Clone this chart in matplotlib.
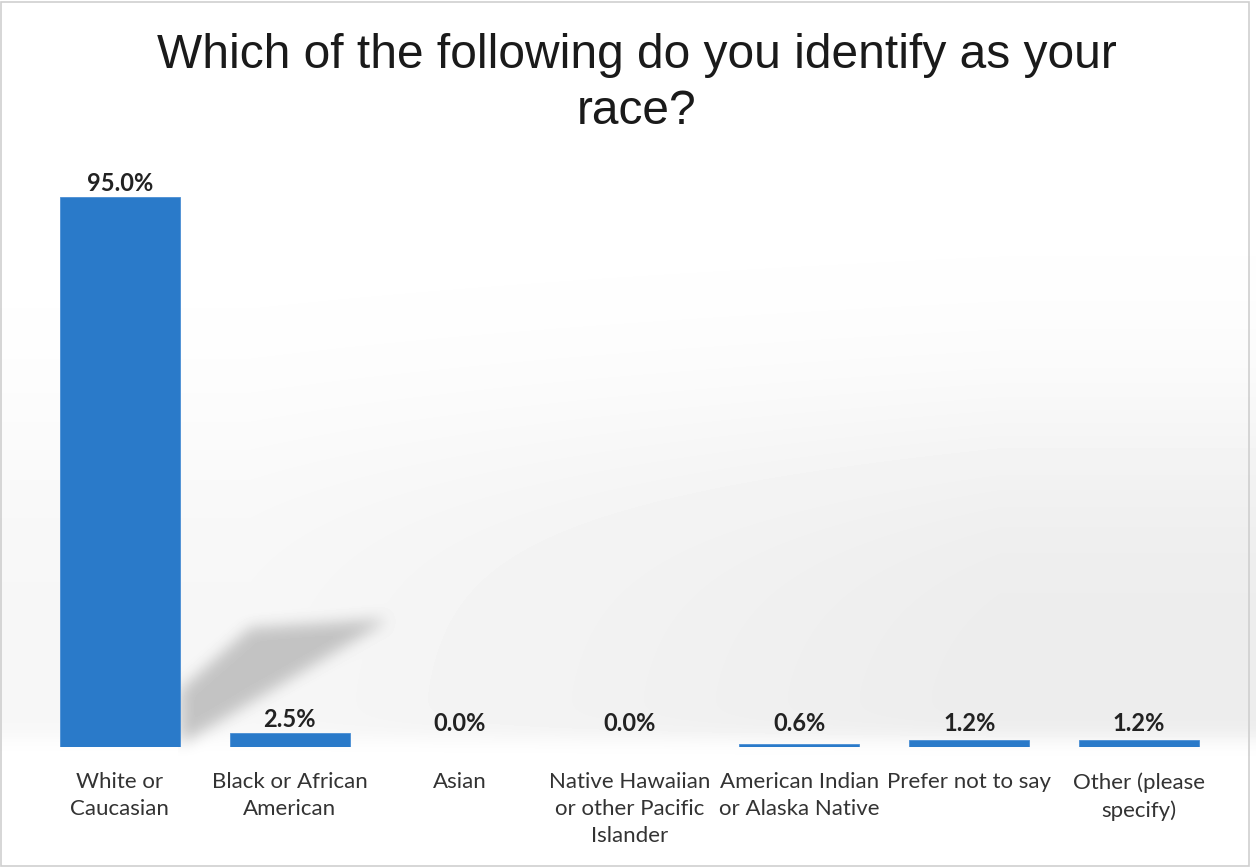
import numpy as np
import matplotlib
matplotlib.use("Agg")
import matplotlib.pyplot as plt
from matplotlib.patches import Rectangle

categories = ["White or\nCaucasian", "Black or African\nAmerican", "Asian",
              "Native Hawaiian\nor other Pacific\nIslander",
              "American Indian\nor Alaska Native", "Prefer not to say",
              "Other (please\nspecify)"]
values = [95.0, 2.5, 0.0, 0.0, 0.6, 1.2, 1.2]
value_labels = ["95.0%", "2.5%", "0.0%", "0.0%", "0.6%", "1.2%", "1.2%"]
title = "Which of the following do you identify as your\nrace?"

W, H = 1256, 867
fig = plt.figure(figsize=(W / 100, H / 100), dpi=100)

# ---- decorative background (soft gray haze + bar shadow) ----
yy, xx = np.mgrid[0:H, 0:W].astype(float)
gy = 1 / (1 + np.exp(-(yy - 430) / 60)) * (1 / (1 + np.exp((yy - 738) / 6)))
gx = 0.45 + 0.55 * np.clip((xx - 250) / 750, 0, 1)
gray = 0.075 * gy * gx
mask = np.zeros((H, W))
for x in range(180, 385):
    if x < 250:
        top = 690 - (x - 180) * (62 / 70)
    else:
        top = 628 - (x - 250) * (8 / 130)
    bot = 745 - (x - 180) * 0.6
    if bot > top:
        mask[int(top):int(bot), x] = 1
k = np.ones(17) / 17
for _ in range(2):
    mask = np.apply_along_axis(lambda r: np.convolve(r, k, mode="same"), 1, mask)
    mask = np.apply_along_axis(lambda c: np.convolve(c, k, mode="same"), 0, mask)
mask[:, :178] = 0
gray = gray + 0.2 * mask
img = 1 - gray
bg = fig.add_axes([0, 0, 1, 1], zorder=-1)
bg.imshow(img, extent=(0, 1, 0, 1), aspect="auto", cmap="gray", vmin=0, vmax=1,
          interpolation="bilinear")
bg.axis("off")

# ---- main axes ----
ax = fig.add_axes([35 / W, 1 - 747 / H, (1224 - 35) / W, 550 / H])
ax.set_facecolor("none")
x = np.arange(len(categories))
bar_color = "#2A7AC9"
ax.bar(x, values, width=0.706, color=bar_color, edgecolor="#4A8ED4", linewidth=0.6)
ax.set_xlim(-0.5, len(categories) - 0.5)
ax.set_ylim(0, 95)
for s in ax.spines.values():
    s.set_visible(False)
ax.set_yticks([])
ax.set_xticks(x)
ax.set_xticklabels(categories, fontsize=16, family="Lato", color="#333333",
                   linespacing=1.45)
ax.tick_params(axis="x", length=0, pad=18)

for xi, v, lab in zip(x, values, value_labels):
    ax.annotate(lab, (xi, max(v, 1.7)), xytext=(0, 4.3), textcoords="offset points",
                ha="center", va="baseline", fontsize=17, fontweight="bold",
                family="Lato", color="#222222", annotation_clip=False)

fig.text(0.507, 1 - 124 / H, title, ha="center", va="baseline", fontsize=34.5,
         family="Liberation Sans", color="#1a1a1a", linespacing=1.3)

# border
fig.add_artist(Rectangle((1 / W, 1 / H), 1 - 8 / W, 1 - 3 / H, transform=fig.transFigure,
                         fill=False, edgecolor="#cfcfcf", linewidth=1.2))

fig.savefig("out.png", dpi=100)
